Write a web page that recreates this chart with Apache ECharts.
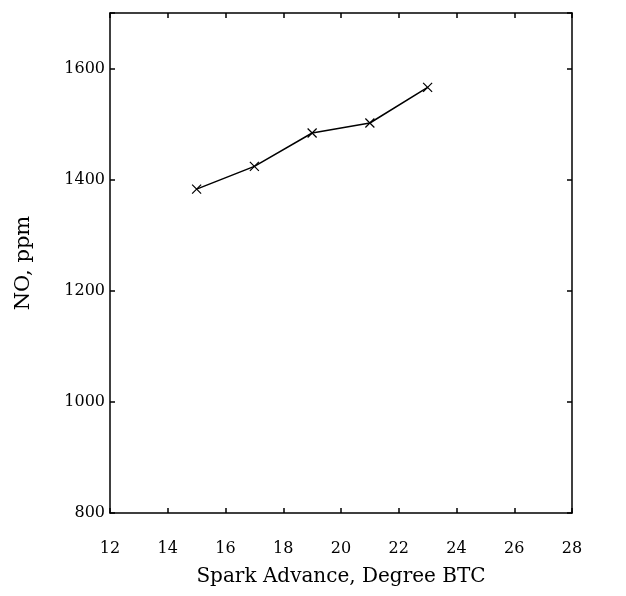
<!DOCTYPE html>
<html>
<head>
<meta charset="utf-8">
<script src="https://cdn.jsdelivr.net/npm/echarts@6/dist/echarts.min.js"></script>
<style>html,body{margin:0;padding:0;background:#fff}#c{width:626px;height:596px}</style>
</head>
<body>
<div id="c"></div>
<script>
const sparkAdvance = [15, 17, 19, 21, 23];
const noPpm = [1383, 1424, 1484, 1502, 1566];
const xTicks = {min: 12, max: 28, interval: 2};
const yTicks = {min: 800, max: 1700, interval: 200};

const font = 'DejaVu Serif';
const chart = echarts.init(document.getElementById('c'));
const axisLine = {show: true, lineStyle: {color: '#000', width: 1.5}};
const tick = {show: true, inside: true, length: 5, lineStyle: {color: '#000', width: 1.5}};
chart.setOption({
  animation: false,
  backgroundColor: '#fff',
  grid: {left: 110, right: 54, top: 13, bottom: 83},
  xAxis: [{
    type: 'value', min: xTicks.min, max: xTicks.max, interval: xTicks.interval,
    name: 'Spark Advance, Degree BTC', nameLocation: 'middle', nameGap: 54,
    nameTextStyle: {fontFamily: font, fontSize: 20, color: '#000'},
    axisLine: axisLine, axisTick: tick, splitLine: {show: false},
    axisLabel: {fontFamily: font, fontSize: 16, color: '#000', margin: 28}
  }, {
    type: 'value', position: 'top', min: xTicks.min, max: xTicks.max, interval: xTicks.interval,
    axisLine: axisLine, axisTick: tick, splitLine: {show: false}, axisLabel: {show: false}
  }],
  yAxis: [{
    type: 'value', min: yTicks.min, max: yTicks.max, interval: yTicks.interval,
    name: 'NO, ppm', nameLocation: 'middle', nameGap: 76,
    nameTextStyle: {fontFamily: font, fontSize: 21, color: '#000'},
    axisLine: axisLine, axisTick: tick, splitLine: {show: false},
    axisLabel: {fontFamily: font, fontSize: 16, color: '#000', margin: 5,
      formatter: v => v <= 1600 ? String(v) : ''}
  }, {
    type: 'value', position: 'right', min: yTicks.min, max: yTicks.max, interval: yTicks.interval,
    axisLine: axisLine, axisTick: tick, splitLine: {show: false}, axisLabel: {show: false}
  }],
  series: [{
    type: 'line',
    data: sparkAdvance.map((x, i) => [x, noPpm[i]]),
    lineStyle: {color: '#000', width: 1.5},
    symbol: 'path://M0,0L10,10M10,0L0,10',
    symbolSize: 9,
    itemStyle: {color: 'transparent', borderColor: '#000', borderWidth: 1.2}
  }]
});
</script>
</body>
</html>
